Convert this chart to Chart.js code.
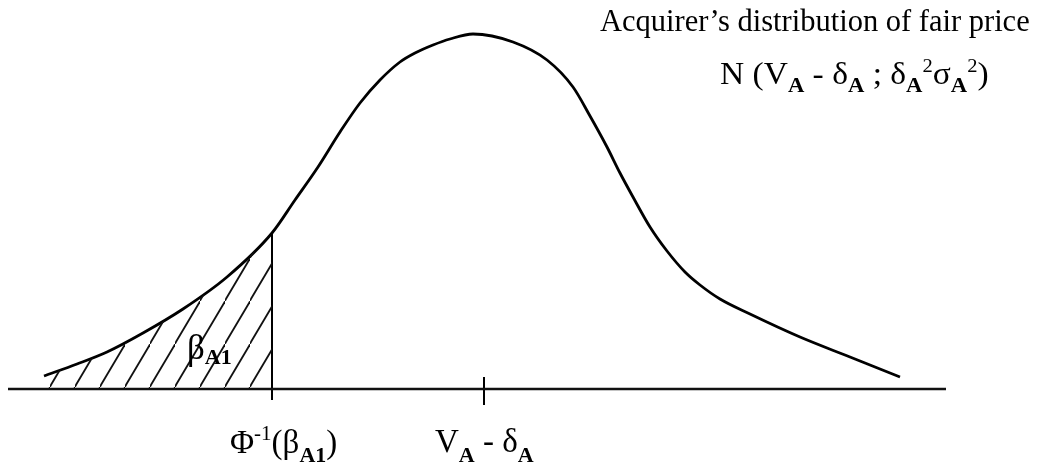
<!DOCTYPE html>
<html>
<head>
<meta charset="utf-8">
<script src="https://cdn.jsdelivr.net/npm/chart.js@4"></script>
<style>
  body { margin: 0; background: #fff; }
  #wrap { width: 1043px; height: 473px; position: relative; }
</style>
</head>
<body>
<div id="wrap"><canvas id="bieuDoPhanPhoi"></canvas></div>
<script>
// gia (truc x) va mat do (chieu cao tren truc)
const giaX = [44, 77, 107, 143, 183, 227, 272, 295, 318, 340, 360, 380, 400, 415, 433, 450, 473, 513, 547, 573, 590, 607, 620, 633, 650, 667, 685, 700, 720, 750, 800, 850, 900];
const matDo = [13, 25, 37, 56, 80, 112, 156, 189, 222, 257, 286, 309, 327, 336, 344, 350, 355, 347, 329, 302, 273, 242, 216, 192, 162, 138, 117, 104, 90, 75, 52, 32, 12];
const giaCat = 272;          // Phi^-1(beta_A1)
const giaTrungBinh = 484;    // V_A - delta_A
const truc = [8, 946];

// ve net gach cheo cho phan duoi
function taoHoaVan() {
    const c = document.createElement('canvas');
    c.width = 25; c.height = 43;
    const g = c.getContext('2d');
    g.strokeStyle = '#111';
    g.lineWidth = 1.8;
    g.beginPath();
    g.moveTo(-2, 46); g.lineTo(27, -3);
    g.stroke();
    return g.createPattern(c, 'repeat');
}

const diemCong = giaX.map((x, i) => ({ x: x, y: matDo[i] }));
const diemDuoi = diemCong.filter(p => p.x <= giaCat);
const matDoCat = matDo[giaX.indexOf(giaCat)];

const serif = '"Liberation Serif", "Times New Roman", serif';
const F = size => size + 'px ' + serif;
const FB = size => 'bold ' + size + 'px ' + serif;

const nhan = [
    { x: 600, y: 358, parts: [{ t: 'Acquirer\u2019s distribution of fair price', f: F(30.5) }] },
    { x: 720, y: 305, sx: 1.08, parts: [
        { t: 'N (V', f: F(31) }, { t: 'A', f: FB(21), dy: 8 },
        { t: ' - \u03b4', f: F(31) }, { t: 'A', f: FB(21), dy: 8 },
        { t: ' ; \u03b4', f: F(31) }, { t: 'A', f: FB(21), dy: 8 }, { t: '2', f: F(19), dy: -12 },
        { t: '\u03c3', f: F(31) }, { t: 'A', f: FB(21), dy: 8 }, { t: '2', f: F(19), dy: -12 },
        { t: ')', f: F(31) }] },
    { x: 187, y: 30, parts: [{ t: '\u03b2', f: F(35) }, { t: 'A1', f: FB(22), dy: 5 }] },
    { x: 230, y: -64, parts: [
        { t: '\u03a6', f: F(33) }, { t: '-1', f: F(21), dy: -13 },
        { t: '(\u03b2', f: F(33) }, { t: 'A1', f: FB(22), dy: 9 }, { t: ')', f: F(33) }] },
    { x: 435, y: -63, parts: [
        { t: 'V', f: F(33) }, { t: 'A', f: FB(22), dy: 10 },
        { t: ' - \u03b4', f: F(33) }, { t: 'A', f: FB(22), dy: 10 }] }
];

const vietChu = {
    id: 'vietChu',
    afterDatasetsDraw(chart) {
        const ctx = chart.ctx;
        const sx = chart.scales.x, sy = chart.scales.y;
        ctx.fillStyle = '#000';
        ctx.textBaseline = 'alphabetic';
        nhan.forEach(n => {
            ctx.save();
            ctx.translate(sx.getPixelForValue(n.x), sy.getPixelForValue(n.y));
            ctx.scale(n.sx || 1, 1);
            let cx = 0;
            n.parts.forEach(p => {
                ctx.font = p.f;
                ctx.fillText(p.t, cx, p.dy || 0);
                cx += ctx.measureText(p.t).width;
            });
            ctx.restore();
        });
    }
};

const ctx = document.getElementById('bieuDoPhanPhoi').getContext('2d');
new Chart(ctx, {
    type: 'line',
    data: {
        datasets: [
            {
                data: diemDuoi,
                borderWidth: 0,
                pointRadius: 0,
                fill: 'origin',
                backgroundColor: taoHoaVan(),
                cubicInterpolationMode: 'monotone'
            },
            {
                data: diemCong,
                borderColor: '#000',
                borderWidth: 2.8,
                pointRadius: 0,
                fill: false,
                cubicInterpolationMode: 'monotone'
            },
            {
                data: [{ x: truc[0], y: 0 }, { x: truc[1], y: 0 }],
                borderColor: '#111',
                borderWidth: 2.4,
                pointRadius: 0
            },
            {
                data: [{ x: giaCat, y: -11 }, { x: giaCat, y: matDoCat }],
                borderColor: '#000',
                borderWidth: 2,
                pointRadius: 0
            },
            {
                data: [{ x: giaTrungBinh, y: 12 }, { x: giaTrungBinh, y: -16 }],
                borderColor: '#000',
                borderWidth: 2,
                pointRadius: 0
            }
        ]
    },
    options: {
        responsive: true,
        maintainAspectRatio: false,
        animation: false,
        layout: { padding: 0 },
        scales: {
            x: { type: 'linear', min: 0, max: 1043, display: false },
            y: { type: 'linear', min: -84, max: 389, display: false }
        },
        plugins: {
            legend: { display: false },
            tooltip: { enabled: false }
        }
    },
    plugins: [vietChu]
});
</script>
</body>
</html>
